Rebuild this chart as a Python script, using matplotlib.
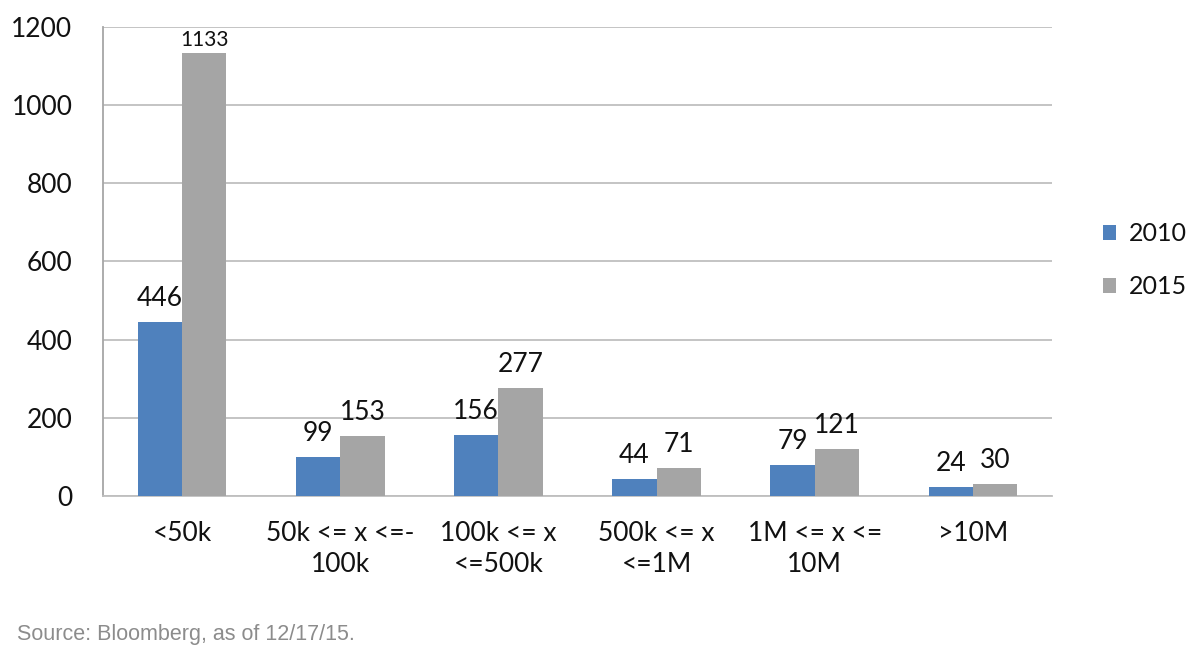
import matplotlib
matplotlib.use('Agg')
import matplotlib.pyplot as plt
import numpy as np

# chart data
categories = ['<50k', '50k <= x <=-\n100k', '100k <= x\n<=500k',
              '500k <= x\n<=1M', '1M <= x <=\n10M', '>10M']
values_2010 = [446, 99, 156, 44, 79, 24]
values_2015 = [1133, 153, 277, 71, 121, 30]
series_names = ['2010', '2015']
y_ticks = [0, 200, 400, 600, 800, 1000, 1200]
source_note = 'Source: Bloomberg, as of 12/17/15.'

plt.rcParams['font.family'] = ['Lato', 'DejaVu Sans']

fig = plt.figure(figsize=(12, 6.58), dpi=100)
ax = fig.add_axes([0.0858, 0.2462, 0.7909, 0.7128])

x = np.arange(len(categories))
bw = 0.28
blue = '#4F81BD'
gray = '#A5A5A5'
ink = '#111111'

b1 = ax.bar(x - bw / 2, values_2010, bw, color=blue, label=series_names[0], zorder=3)
b2 = ax.bar(x + bw / 2, values_2015, bw, color=gray, label=series_names[1], zorder=3)

# value labels above bars
for bars in (b1, b2):
    for rect in bars:
        h = rect.get_height()
        if h > 1000:
            size, off = 15, 2
        else:
            size, off = 19, 8
        ax.annotate(f'{int(h)}', (rect.get_x() + rect.get_width() / 2, h),
                    xytext=(0, off), textcoords='offset points',
                    ha='center', va='bottom', fontsize=size, color=ink)

ax.set_xlim(-0.5, len(categories) - 0.5)
ax.set_ylim(0, 1200)
ax.set_yticks(y_ticks)
ax.set_xticks(x)
ax.set_xticklabels(categories, fontsize=19, linespacing=1.3, color=ink)
ax.tick_params(axis='y', labelsize=19, length=0, pad=22, labelcolor=ink)
ax.tick_params(axis='x', length=0, pad=18)

ax.grid(True, axis='y', color='#BFBFBF', linewidth=1.3, zorder=0)
ax.set_axisbelow(True)
for s in ('top', 'right'):
    ax.spines[s].set_visible(False)
ax.spines['left'].set_color('#A6A6A6')
ax.spines['left'].set_linewidth(1.3)
ax.spines['bottom'].set_color('#BFBFBF')
ax.spines['bottom'].set_linewidth(1.3)

leg = fig.legend(loc='center left', bbox_to_anchor=(0.9, 0.605), frameon=False,
                 fontsize=18, handlelength=0.55, handleheight=0.55,
                 handletextpad=0.5, labelspacing=1.2)
for t in leg.get_texts():
    t.set_color(ink)

fig.text(0.014, 0.028, source_note, fontsize=15.5, color='#8C8C8C',
         family=['Liberation Sans', 'DejaVu Sans'])

fig.savefig('out.png', dpi=100)
